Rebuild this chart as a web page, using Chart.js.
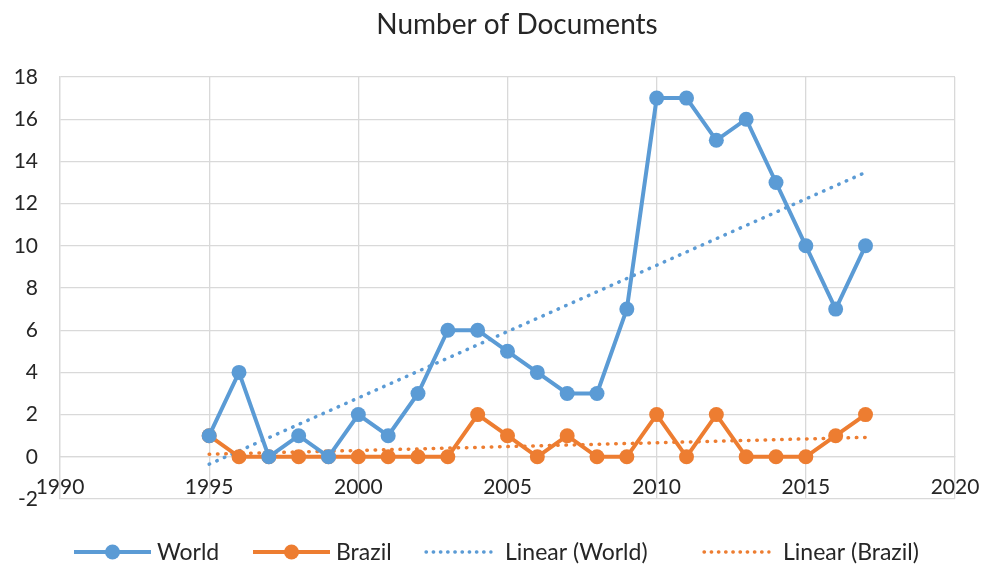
<!DOCTYPE html>
<html><head><meta charset="utf-8">
<script src="https://cdn.jsdelivr.net/npm/chart.js@4.4.1/dist/chart.umd.min.js"></script>
<style>html,body{margin:0;padding:0;background:#fff}#wrap{width:982px;height:565px}</style>
</head><body><div id="wrap"><canvas id="c" width="982" height="565"></canvas></div>
<script>
const years = [1995,1996,1997,1998,1999,2000,2001,2002,2003,2004,2005,2006,2007,2008,2009,2010,2011,2012,2013,2014,2015,2016,2017];
const world = [1,4,0,1,0,2,1,3,6,6,5,4,3,3,7,17,17,15,16,13,10,7,10];
const brazil = [1,0,0,0,0,0,0,0,0,2,1,0,1,0,0,2,0,2,0,0,0,1,2];
const trendYears = [1995, 2017];
const trendWorld = [-0.35, 13.48];
const trendBrazil = [0.12, 0.92];
const xTicks = [1990,1995,2000,2005,2010,2015,2020];
const yTicks = [-2,0,2,4,6,8,10,12,14,16,18];
const seriesNames = ['World', 'Brazil', 'Linear (World)', 'Linear (Brazil)'];
const titleText = 'Number of Documents';

const BLUE = '#5B9BD5', ORANGE = '#ED7D31', GRID = '#D9D9D9', TXT = '#262626';
const FONT = 'Lato';

function pts(xs, ys){ return xs.map((x,i)=>({x:x, y:ys[i]})); }

// custom title + legend drawn on the canvas as text
const decor = {
  id: 'decor',
  afterDraw(chart){
    const g = chart.ctx;
    g.save();
    g.fillStyle = TXT;
    g.textBaseline = 'middle';
    g.textAlign = 'center';
    g.font = '28px ' + FONT;
    g.fillText(titleText, 517, 25);

    const colors = [BLUE, ORANGE, BLUE, ORANGE];
    const starts = [74, 253, 425, 703];
    const y = 552;
    g.font = '23px ' + FONT;
    g.textAlign = 'left';
    chart.data.datasets.forEach((ds, i) => {
      const x0 = starts[i];
      g.strokeStyle = colors[i]; g.fillStyle = colors[i];
      let textX;
      if (i < 2){
        g.lineWidth = 4; g.setLineDash([]);
        g.beginPath(); g.moveTo(x0, y); g.lineTo(x0 + 77, y); g.stroke();
        g.beginPath(); g.arc(x0 + 38.5, y, 7.5, 0, Math.PI*2); g.fill();
        textX = x0 + 83;
      } else {
        g.lineWidth = 3.3; g.lineCap = 'round'; g.setLineDash([0.5, 6.7]);
        g.beginPath(); g.moveTo(x0 + 1, y); g.lineTo(x0 + 66, y); g.stroke();
        g.setLineDash([]); g.lineCap = 'butt';
        textX = x0 + 80;
      }
      g.fillStyle = TXT;
      g.fillText(ds.label, textX, y + 1);
    });
    g.restore();
  }
};

new Chart(document.getElementById('c'), {
  type: 'line',
  data: {
    datasets: [
      {label: seriesNames[0], data: pts(years, world), borderColor: BLUE, backgroundColor: BLUE, borderWidth: 4, pointRadius: 7.5, pointBorderWidth: 0, pointBackgroundColor: BLUE, tension: 0},
      {label: seriesNames[1], data: pts(years, brazil), borderColor: ORANGE, backgroundColor: ORANGE, borderWidth: 4, pointRadius: 7.5, pointBorderWidth: 0, pointBackgroundColor: ORANGE, tension: 0},
      {label: seriesNames[2], data: pts(trendYears, trendWorld), borderColor: BLUE, borderWidth: 3.5, borderDash:[0.5, 7.8], borderCapStyle:'round', pointRadius: 0},
      {label: seriesNames[3], data: pts(trendYears, trendBrazil), borderColor: ORANGE, borderWidth: 3.5, borderDash:[0.5, 7.8], borderCapStyle:'round', pointRadius: 0}
    ]
  },
  options: {
    responsive: false, animation: false, events: [],
    layout: {padding: {left: 0, right: 27, top: 77, bottom: 66}},
    plugins: {
      title: {display: false},
      legend: {display: false},
      tooltip: {enabled: false}
    },
    scales: {
      x: {
        type: 'linear', position: {y: 0}, min: 1990, max: 2020,
        afterBuildTicks: (s) => { s.ticks = xTicks.map(v => ({value: v})); },
        afterFit: (s) => { s.paddingLeft = 0; s.paddingRight = 0; },
        ticks: {color: TXT, font: {family: FONT, size: 21}, padding: 18, maxRotation: 0, callback: (v) => String(v)},
        grid: {color: GRID, lineWidth: 1.3, drawTicks: false},
        border: {color: GRID, width: 1.3}
      },
      y: {
        min: -2, max: 18,
        afterBuildTicks: (s) => { s.ticks = yTicks.map(v => ({value: v})); },
        afterFit: (s) => { s.width = 60; s.paddingTop = 0; s.paddingBottom = 0; },
        ticks: {color: TXT, font: {family: FONT, size: 21}, padding: 22},
        grid: {color: GRID, lineWidth: 1.3, drawTicks: false},
        border: {color: GRID, width: 1.3}
      }
    }
  },
  plugins: [decor]
});
</script></body></html>
